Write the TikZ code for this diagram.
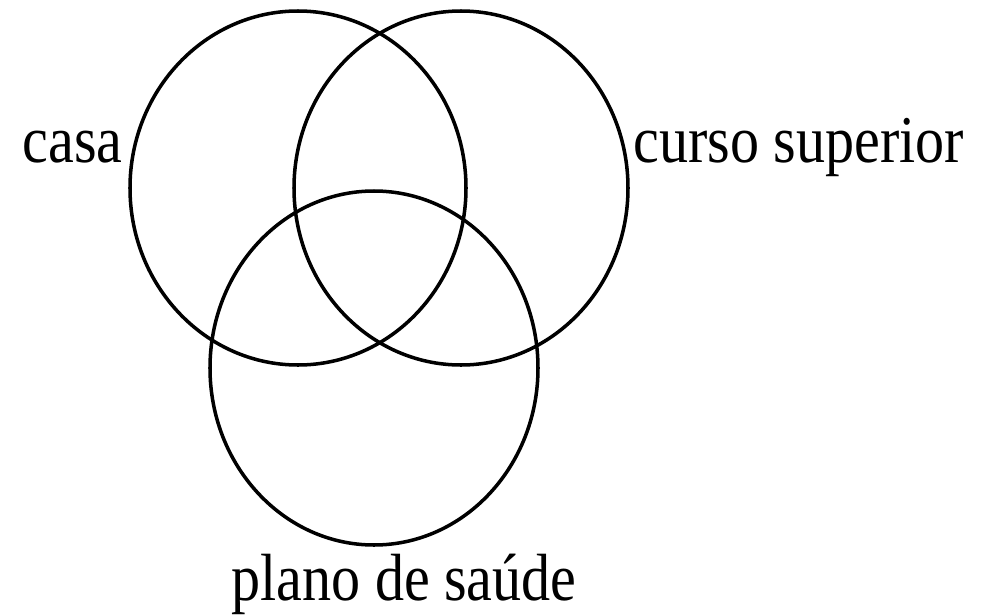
\documentclass[tikz,border=0pt]{standalone}
\usepackage{fontspec}
\usepackage{tikz}
\usetikzlibrary{positioning}
\newfontfamily\vennfont[FakeStretch=0.87]{Liberation Serif}
\tikzset{
  setline/.style={draw=black, line width=2pt},
  setlabel/.style={inner sep=0pt, font=\vennfont\fontsize{38}{44}\selectfont},
}

\begin{document}
\begin{tikzpicture}[x=0.02cm, y=-0.02cm]
  \useasboundingbox (0,0) rectangle (992,616);

  \coordinate (casa) at (298,188);
  \coordinate (curso) at (461,188);
  \coordinate (plano) at (374,368);

  \draw[setline] (casa) ellipse [x radius=168, y radius=177];
  \draw[setline] (curso) ellipse [x radius=167, y radius=177];
  \draw[setline] (plano) ellipse [x radius=164, y radius=177];

  \node[setlabel, anchor=base east] (lcasa) at (123,162) {casa};
  \node[setlabel, anchor=base west] (lcurso) at (633,162) {curso superior};
  \node[setlabel, anchor=base] (lplano) at (404,600) {plano de saúde};

\end{tikzpicture}
\end{document}
